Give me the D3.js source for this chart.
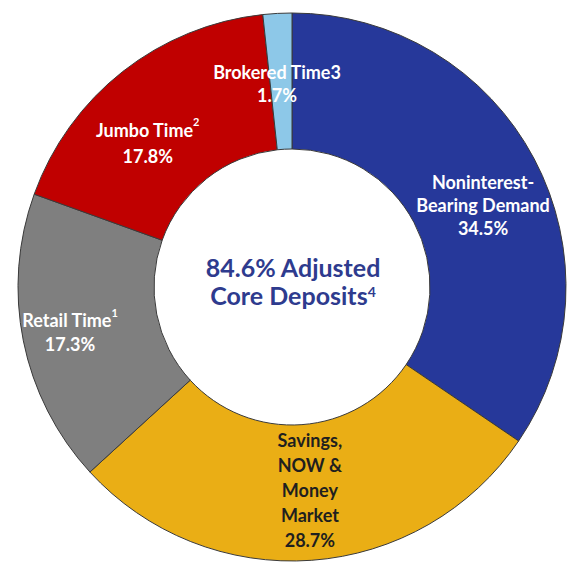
<!DOCTYPE html>
<html>
<head>
<meta charset="utf-8">
<script src="https://cdn.jsdelivr.net/npm/d3@7"></script>
<style>
  html, body { margin: 0; padding: 0; background: #ffffff; }
  svg { display: block; }
</style>
</head>
<body>
<svg id="chart" width="570" height="565"></svg>
<script>
// ---- data ----
const categories = ["Noninterest-Bearing Demand", "Savings, NOW & Money Market", "Retail Time", "Jumbo Time", "Brokered Time3"];
const values = [34.5, 28.7, 17.3, 17.8, 1.7];
const labelLines = [
  ["Noninterest-", "Bearing Demand"],
  ["Savings,", "NOW &", "Money", "Market"],
  ["Retail Time"],
  ["Jumbo Time"],
  ["Brokered Time3"]
];
const labelSup = ["", "", "1", "2", ""];
const centerLines = ["84.6% Adjusted", "Core Deposits"];
const centerSup = "4";

// ---- styling / layout ----
const colors = ["#26389A", "#EAAE15", "#7F7F7F", "#C00000", "#8DC8E8"];
const textColors = ["#ffffff", "#1f1f1f", "#ffffff", "#ffffff", "#ffffff"];
const lineHeights = [23, 25, 24, 26, 23];
const nudges = [[9, 17], [3, 0], [-20, 7], [-17, 20], [-4, 5]];
const cx = 292, cy = 287, R = 274, r = 138, labelR = 206;
const font = "Lato, 'Open Sans', sans-serif";

const svg = d3.select("#chart");
const g = svg.append("g").attr("transform", `translate(${cx},${cy})`);

const pie = d3.pie().sort(null).value(d => d);
const arcs = pie(values);
const arc = d3.arc().innerRadius(r).outerRadius(R);
const labelArc = d3.arc().innerRadius(labelR).outerRadius(labelR);

g.selectAll("path.slice")
  .data(arcs)
  .enter().append("path")
  .attr("class", "slice")
  .attr("d", arc)
  .attr("fill", (d, i) => colors[i])
  .attr("stroke", "#3a3a3a")
  .attr("stroke-width", 1);

// slice labels
arcs.forEach((d, i) => {
  const [x0, y0] = labelArc.centroid(d);
  const lines = labelLines[i].concat([values[i].toFixed(1) + "%"]);
  const lh = lineHeights[i];
  const x = x0 + nudges[i][0];
  const yTop = y0 + nudges[i][1] - (lines.length - 1) * lh / 2;
  const t = g.append("text")
    .attr("text-anchor", "middle")
    .attr("font-family", font)
    .attr("font-weight", "bold")
    .attr("font-size", 18)
    .attr("fill", textColors[i]);
  lines.forEach((ln, j) => {
    t.append("tspan")
      .attr("x", x)
      .attr("y", yTop + j * lh)
      .attr("dominant-baseline", "middle")
      .text(ln);
    if (j === 0 && labelSup[i]) {
      t.append("tspan")
        .attr("dy", -6)
        .attr("font-size", 11)
        .text(labelSup[i]);
    }
  });
});

// center text
const ct = g.append("text")
  .attr("text-anchor", "middle")
  .attr("font-family", font)
  .attr("font-weight", "bold")
  .attr("font-size", 25)
  .attr("fill", "#2E3B8E");
ct.append("tspan").attr("x", 1).attr("y", -10).text(centerLines[0]);
ct.append("tspan").attr("x", 1).attr("y", 18).text(centerLines[1]);
ct.append("tspan").attr("dy", -8).attr("font-size", 14).text(centerSup);
</script>
</body>
</html>
